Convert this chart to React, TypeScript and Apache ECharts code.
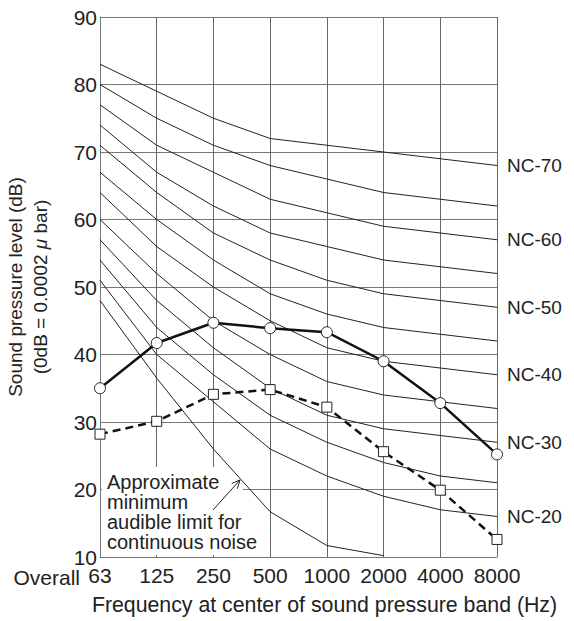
import React, { useEffect, useRef } from "react";
import * as echarts from "echarts";

const categories = ["63", "125", "250", "500", "1000", "2000", "4000", "8000"];

const nc70 = [83, 79, 75, 72, 71, 70, 69, 68];
const nc65 = [80, 75, 71, 68, 66, 64, 63, 62];
const nc60 = [77, 71, 67, 63, 61, 59, 58, 57];
const nc55 = [74, 67, 62, 58, 56, 54, 53, 52];
const nc50 = [71, 64, 58, 54, 51, 49, 48, 47];
const nc45 = [67, 60, 54, 49, 46, 44, 43, 42];
const nc40 = [64, 56, 50, 45, 41, 39, 38, 37];
const nc35 = [60, 52, 45, 40, 36, 34, 33, 32];
const nc30 = [57, 48, 41, 35, 31, 29, 28, 27];
const nc25 = [54, 44, 37, 31, 27, 24, 22, 21];
const nc20 = [51, 40, 33, 26, 22, 19, 17, 16];

const ncCurves: [string, number[], boolean][] = [
  ["NC-70", nc70, true],
  ["NC-65", nc65, false],
  ["NC-60", nc60, true],
  ["NC-55", nc55, false],
  ["NC-50", nc50, true],
  ["NC-45", nc45, false],
  ["NC-40", nc40, true],
  ["NC-35", nc35, false],
  ["NC-30", nc30, true],
  ["NC-25", nc25, false],
  ["NC-20", nc20, true],
];

const minAudible = [48, 36.5, 26, 16.7, 11.7, 10.2, null, null];

const measuredA = [35, 41.7, 44.7, 43.9, 43.3, 39.0, 32.8, 25.2];
const measuredB = [28.2, 30.1, 34.1, 34.8, 32.2, 25.6, 19.9, 12.6];

const yMin = 10;
const yMax = 90;
const yStep = 10;

const FONT = "'Liberation Sans', Arial, Helvetica, sans-serif";
const TXT = "#222";

export default function App() {
  const ref = useRef<HTMLDivElement>(null);

  useEffect(() => {
    if (!ref.current) return;
    const chart = echarts.init(ref.current, undefined, { renderer: "svg" });

    const ncSeries = ncCurves.map(([name, data, labeled]) => ({
      name,
      type: "line",
      data,
      symbol: "none",
      z: 2,
      lineStyle: { color: "#222", width: 1 },
      endLabel: {
        show: labeled,
        formatter: "{a}",
        distance: 10,
        color: TXT,
        fontSize: 19,
        fontFamily: FONT,
      },
    }));

    chart.setOption({
      animation: false,
      textStyle: { fontFamily: FONT },
      grid: {
        left: 100,
        right: 77,
        top: 17,
        bottom: 64,
        containLabel: false,
        outerBoundsMode: "none",
      },
      xAxis: {
        type: "category",
        data: categories,
        boundaryGap: false,
        axisLine: { show: true, lineStyle: { color: "#777", width: 1 } },
        axisTick: { show: false },
        axisLabel: { color: TXT, fontSize: 21, margin: 8, interval: 0, fontFamily: FONT },
        splitLine: { show: true, lineStyle: { color: "#666", width: 1 } },
        name: "Frequency at center of sound pressure band (Hz)",
        nameLocation: "middle",
        nameGap: 37,
        nameTextStyle: { color: TXT, fontSize: 21.3, fontFamily: FONT, padding: [0, 0, 0, 52] },
      },
      yAxis: {
        type: "value",
        min: yMin,
        max: yMax,
        interval: yStep,
        axisLine: { show: true, lineStyle: { color: "#777", width: 1 } },
        axisTick: { show: false },
        axisLabel: { color: TXT, fontSize: 21, margin: 3, fontFamily: FONT },
        splitLine: { show: true, lineStyle: { color: "#777", width: 1.2 } },
        name: "Sound pressure level (dB)\n(0dB = 0.0002 {i|μ} bar)",
        nameLocation: "middle",
        nameGap: 47,
        nameTextStyle: {
          color: TXT,
          fontSize: 19,
          lineHeight: 25,
          fontFamily: FONT,
          rich: { i: { fontStyle: "italic", fontSize: 19, color: TXT, fontFamily: FONT } },
        },
      },
      graphic: [
        {
          type: "text",
          x: 80,
          y: 577,
          z: 5,
          style: {
            text: "Overall",
            fill: TXT,
            fontSize: 21,
            fontFamily: FONT,
            textAlign: "right",
            textVerticalAlign: "middle",
          },
        },
        {
          type: "rect",
          z: 1,
          shape: { x: 102, y: 467, width: 141, height: 88 },
          style: { fill: "#fff" },
        },
        {
          type: "text",
          x: 107,
          y: 472,
          z: 5,
          style: {
            text: "Approximate\nminimum\naudible limit for\ncontinuous noise",
            fill: TXT,
            fontSize: 20,
            lineHeight: 20,
            fontFamily: FONT,
            textAlign: "left",
            textVerticalAlign: "top",
          },
        },
        {
          type: "line",
          z: 5,
          shape: { x1: 213, y1: 510, x2: 240, y2: 480 },
          style: { stroke: "#222", lineWidth: 1 },
        },
        {
          type: "polyline",
          z: 5,
          shape: { points: [[231.7, 483.5], [240, 480], [237.4, 488.6]] },
          style: { stroke: "#222", lineWidth: 1, fill: "none" },
        },
      ],
      series: [
        ...ncSeries,
        {
          name: "min",
          type: "line",
          data: minAudible,
          symbol: "none",
          z: 2,
          connectNulls: false,
          lineStyle: { color: "#222", width: 1 },
        },
        {
          name: "A",
          type: "line",
          data: measuredA,
          symbol: "circle",
          symbolSize: 11,
          z: 4,
          lineStyle: { color: "#111", width: 2.5 },
          itemStyle: { color: "#fff", borderColor: "#222", borderWidth: 1 },
        },
        {
          name: "B",
          type: "line",
          data: measuredB,
          symbol: "rect",
          symbolSize: 10,
          z: 4,
          lineStyle: { color: "#111", width: 2.5, type: [8, 5] },
          itemStyle: { color: "#fff", borderColor: "#222", borderWidth: 1 },
        },
      ],
    });

    return () => chart.dispose();
  }, []);

  return (
    <div
      ref={ref}
      style={{ position: "absolute", left: 0, top: 0, width: 574, height: 621, background: "#fff" }}
    />
  );
}
